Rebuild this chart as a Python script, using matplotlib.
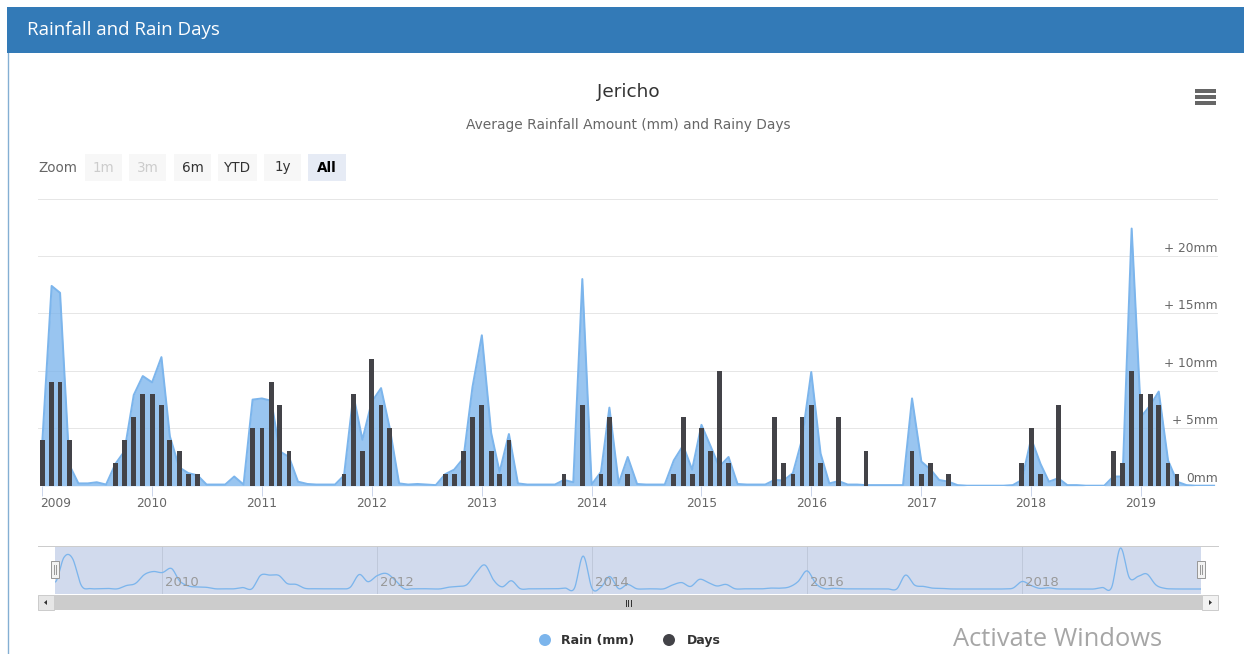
import matplotlib
matplotlib.use('Agg')
import matplotlib.pyplot as plt
import matplotlib.dates as mdates
import matplotlib.transforms as mtransforms
from matplotlib.patches import Rectangle, Circle, Polygon
import numpy as np
import pandas as pd

# ---------------- data ----------------
months = pd.date_range('2009-01-01', '2019-09-01', freq='MS')
rain_mm = [
    3.8, 17.4, 16.8, 1.8, 0.2, 0.2, 0.3, 0.1, 1.9, 3.0, 7.9, 9.55,      # 2009
    9.0, 11.2, 4.3, 1.6, 1.1, 0.9, 0.1, 0.1, 0.1, 0.8, 0.1, 7.5,       # 2010
    7.6, 7.4, 3.0, 2.5, 0.35, 0.15, 0.1, 0.1, 0.1, 0.9, 7.9, 4.0,      # 2011
    7.3, 8.5, 5.0, 0.2, 0.1, 0.15, 0.1, 0.05, 1.0, 1.4, 2.4, 8.6,      # 2012
    13.1, 4.6, 1.2, 4.5, 0.2, 0.1, 0.1, 0.1, 0.1, 0.5, 0.3, 18.0,      # 2013
    0.1, 1.2, 6.8, 0.2, 2.5, 0.15, 0.1, 0.1, 0.1, 2.2, 3.5, 1.4,       # 2014
    5.3, 3.4, 1.65, 2.5, 0.15, 0.1, 0.1, 0.1, 0.5, 0.45, 1.1, 4.0,     # 2015
    9.9, 2.8, 0.2, 0.4, 0.1, 0.1, 0.05, 0.05, 0.05, 0.05, 0.05, 7.6,   # 2016
    2.1, 1.4, 0.5, 0.35, 0.05, 0.0, 0.0, 0.0, 0.0, 0.0, 0.05, 0.5,     # 2017
    4.1, 1.9, 0.35, 0.65, 0.05, 0.05, 0.0, 0.0, 0.0, 0.8, 0.8, 22.4,   # 2018
    6.0, 7.0, 8.2, 2.2, 0.35, 0.05, 0.0, 0.0, 0.0,                     # 2019
]
rain_days = [
    4, 9, 9, 4, 0, 0, 0, 0, 2, 4, 6, 8,      # 2009
    8, 7, 4, 3, 1, 1, 0, 0, 0, 0, 0, 5,      # 2010
    5, 9, 7, 3, 0, 0, 0, 0, 0, 1, 8, 3,      # 2011
    11, 7, 5, 0, 0, 0, 0, 0, 1, 1, 3, 6,     # 2012
    7, 3, 1, 4, 0, 0, 0, 0, 0, 1, 0, 7,      # 2013
    0, 1, 6, 0, 1, 0, 0, 0, 0, 1, 6, 1,      # 2014
    5, 3, 10, 2, 0, 0, 0, 0, 6, 2, 1, 6,     # 2015
    7, 2, 0, 6, 0, 0, 3, 0, 0, 0, 0, 3,      # 2016
    1, 2, 0, 1, 0, 0, 0, 0, 0, 0, 0, 2,      # 2017
    5, 1, 0, 7, 0, 0, 0, 0, 0, 3, 2, 10,     # 2018
    8, 8, 7, 2, 1, 0, 0, 0, 0,               # 2019
]
year_ticks = list(range(2009, 2020))
nav_years = [2010, 2012, 2014, 2016, 2018]
y_ticks = [0, 5, 10, 15, 20, 25]
y_labels = {0: '0mm', 5: '+ 5mm', 10: '+ 10mm', 15: '+ 15mm', 20: '+ 20mm'}
zoom_buttons = ['1m', '3m', '6m', 'YTD', '1y', 'All']
series_names = ['Rain (mm)', 'Days']

# ---------------- styling ----------------
W, H = 1244, 654
RAIN_C = '#7cb5ec'
DAYS_C = '#434348'
FONT = 'DejaVu Sans'
def pt(px):
    return px * 0.72

fig = plt.figure(figsize=(W / 100, H / 100), dpi=100)
fig.patch.set_facecolor('white')

def px_axes(x0, y0, x1, y1, **kw):
    return fig.add_axes([x0 / W, 1 - y1 / H, (x1 - x0) / W, (y1 - y0) / H], **kw)

# background overlay (pixel coordinates)
bg = fig.add_axes([0, 0, 1, 1], zorder=0)
bg.set_xlim(0, W)
bg.set_ylim(H, 0)
bg.axis('off')

# panel header
bg.add_patch(Rectangle((7, 7), W - 7, 46, facecolor='#337ab7', edgecolor='none'))
bg.plot([7.5, 7.5], [53, H], color='#337ab7', lw=1, alpha=0.6)
bg.text(27, 30, 'Rainfall and Rain Days', color='white', fontsize=pt(18.8),
        family='Open Sans', va='center', ha='left')

# title / subtitle
bg.text(628, 92, 'Jericho', color='#333333', fontsize=pt(18.5), family=FONT,
        ha='center', va='center')
bg.text(628, 125, 'Average Rainfall Amount (mm) and Rainy Days', color='#666666',
        fontsize=pt(13.7), family=FONT, ha='center', va='center')

# hamburger icon
for yy in (91, 97, 103):
    bg.add_patch(Rectangle((1195, yy - 1.7), 21, 3.4, facecolor='#666666', edgecolor='none'))

# range selector
bg.text(38, 168, 'Zoom', color='#666666', fontsize=pt(13.5), family=FONT,
        ha='left', va='center')
btn_x = [85, 129, 174, 218, 264, 308]
btn_w = [37, 37, 37, 39, 37, 38]
for lbl, bx, bw in zip(zoom_buttons, btn_x, btn_w):
    if lbl in ('1m', '3m'):
        fc, tc, fw = '#f7f7f7', '#cccccc', 'normal'
    elif lbl == 'All':
        fc, tc, fw = '#e6ebf5', '#000000', 'bold'
    else:
        fc, tc, fw = '#f7f7f7', '#333333', 'normal'
    bg.add_patch(Rectangle((bx, 154), bw, 27, facecolor=fc, edgecolor='none'))
    bg.text(bx + bw / 2, 167.5, lbl, color=tc, fontsize=pt(13.5), family=FONT,
            ha='center', va='center', fontweight=fw)

# ---------------- main chart ----------------
ax = px_axes(38, 198.7, 1218, 485.7, zorder=2)
ax.patch.set_alpha(0)
x = mdates.date2num(months.to_pydatetime())
rain = np.array(rain_mm)
days = np.array(rain_days)

ax.fill_between(x, 0, rain, color=RAIN_C, alpha=0.78, lw=0, zorder=2)
ax.plot(x, rain, color=RAIN_C, lw=pt(2), zorder=3, solid_joinstyle='round')
ax.bar(x, days, width=16.0, color=DAYS_C, zorder=4, linewidth=0)

x_left = mdates.date2num(pd.Timestamp('2009-01-01')) - 14.3
x_right = mdates.date2num(pd.Timestamp('2019-09-14'))
ax.set_xlim(x_left, x_right)
ax.set_ylim(0, 25)
for s in ax.spines.values():
    s.set_visible(False)
ax.set_yticks(y_ticks)
ax.yaxis.grid(True, color='#e6e6e6', lw=pt(1))
ax.set_axisbelow(True)
ax.tick_params(axis='y', length=0, labelleft=False, labelright=False)
ytrans = mtransforms.blended_transform_factory(ax.transAxes, ax.transData)
for v, lbl in y_labels.items():
    ax.annotate(lbl, xy=(1.0, v), xycoords=ytrans, xytext=(0, pt(7.5)),
                textcoords='offset points', ha='right', va='center',
                fontsize=pt(12.3), color='#666666', family=FONT)

xt = [mdates.date2num(pd.Timestamp(f'{y}-01-01')) for y in year_ticks]
ax.set_xticks(xt)
ax.set_xticklabels([''] * len(xt))
ax.tick_params(axis='x', length=pt(10), width=pt(1), color='#ccd6eb', direction='out')
xtrans = mtransforms.blended_transform_factory(ax.transData, ax.transAxes)
for i, (v, y) in enumerate(zip(xt, year_ticks)):
    if i == 0:
        ax.annotate(str(y), xy=(v, 0), xycoords=xtrans, xytext=(pt(-2), pt(-17.5)),
                    textcoords='offset points', ha='left', va='center',
                    fontsize=pt(12.3), color='#666666', family=FONT)
    else:
        ax.annotate(str(y), xy=(v, 0), xycoords=xtrans, xytext=(0, pt(-17.5)),
                    textcoords='offset points', ha='center', va='center',
                    fontsize=pt(12.3), color='#666666', family=FONT)

# ---------------- navigator ----------------
bg.plot([38, 1218], [546, 546], color='#cccccc', lw=pt(1))
nav = px_axes(55, 547, 1201, 594, zorder=2)
nav.set_facecolor('#d1daed')
for s in nav.spines.values():
    s.set_visible(False)
# spline through the monthly rain values (cubic Hermite, Catmull-Rom tangents)
n = len(rain)
tang = np.zeros(n)
tang[1:-1] = (rain[2:] - rain[:-2]) / 2.0
xs, ys = [], []
for i in range(n - 1):
    t = np.linspace(0, 1, 12, endpoint=False)
    h00 = 2 * t**3 - 3 * t**2 + 1
    h10 = t**3 - 2 * t**2 + t
    h01 = -2 * t**3 + 3 * t**2
    h11 = t**3 - t**2
    ys.append(h00 * rain[i] + h10 * tang[i] + h01 * rain[i + 1] + h11 * tang[i + 1])
    xs.append(x[i] + t * (x[i + 1] - x[i]))
xs.append([x[-1]]); ys.append([rain[-1]])
xs = np.concatenate(xs); ys = np.concatenate(ys)
nav.plot(xs, ys, color=RAIN_C, lw=pt(1.3), zorder=3)
nav.set_xlim(x[0], x[-1])
nav.set_ylim(-2.73, 22.95)
nav.set_yticks([])
nxt = [mdates.date2num(pd.Timestamp(f'{y}-01-01')) for y in nav_years]
nav.set_xticks(nxt)
nav.set_xticklabels([''] * len(nxt))
nav.tick_params(axis='x', length=0)
nav.xaxis.grid(True, color='#bfc8da', lw=pt(1))
nav.set_axisbelow(True)
ntrans = mtransforms.blended_transform_factory(nav.transData, nav.transAxes)
for v, y in zip(nxt, nav_years):
    nav.annotate(str(y), xy=(v, 0), xycoords=ntrans, xytext=(pt(3), pt(11)),
                 textcoords='offset points', ha='left', va='center',
                 fontsize=pt(13.3), color='#999999', family=FONT, zorder=4)

# handles
fg = fig.add_axes([0, 0, 1, 1], zorder=5)
fg.set_xlim(0, W); fg.set_ylim(H, 0); fg.axis('off')
for hx in (54.5, 1201.0):
    fg.add_patch(Rectangle((hx - 4, 561), 8, 17, facecolor='#f2f2f2', edgecolor='#999999', lw=pt(1)))
    fg.plot([hx - 1, hx - 1], [565, 574], color='#999999', lw=pt(1))
    fg.plot([hx + 1, hx + 1], [565, 574], color='#999999', lw=pt(1))

# scrollbar
fg.add_patch(Rectangle((38, 595), 1180, 15, facecolor='#f2f2f2', edgecolor='none'))
fg.add_patch(Rectangle((54, 595), 1148, 15, facecolor='#cccccc', edgecolor='none'))
fg.add_patch(Rectangle((38, 595), 16, 15, facecolor='#e6e6e6', edgecolor='#cccccc', lw=pt(1)))
fg.add_patch(Rectangle((1202, 595), 16, 15, facecolor='#f2f2f2', edgecolor='#cccccc', lw=pt(1)))
fg.add_patch(Polygon([[44, 602.5], [47, 600], [47, 605]], closed=True, facecolor='#333333', edgecolor='none'))
fg.add_patch(Polygon([[1212, 602.5], [1209, 600], [1209, 605]], closed=True, facecolor='#333333', edgecolor='none'))
for rx in (625.5, 628, 630.5):
    fg.plot([rx, rx], [599.5, 605.5], color='#333333', lw=pt(1))

# legend
fg.add_patch(Circle((545, 640), 6, facecolor=RAIN_C, edgecolor='none'))
fg.text(561, 640.5, series_names[0], fontsize=pt(12.5), fontweight='bold', color='#333333',
        family=FONT, ha='left', va='center')
fg.add_patch(Circle((669, 640), 6, facecolor=DAYS_C, edgecolor='none'))
fg.text(687, 640.5, series_names[1], fontsize=pt(12.5), fontweight='bold', color='#333333',
        family=FONT, ha='left', va='center')

# screenshot watermark
fg.text(953, 639, 'Activate Windows', fontsize=pt(25.5), color='#a6a6a6',
        family='Open Sans', ha='left', va='center')

fig.savefig('out.png', dpi=100, facecolor='white')
